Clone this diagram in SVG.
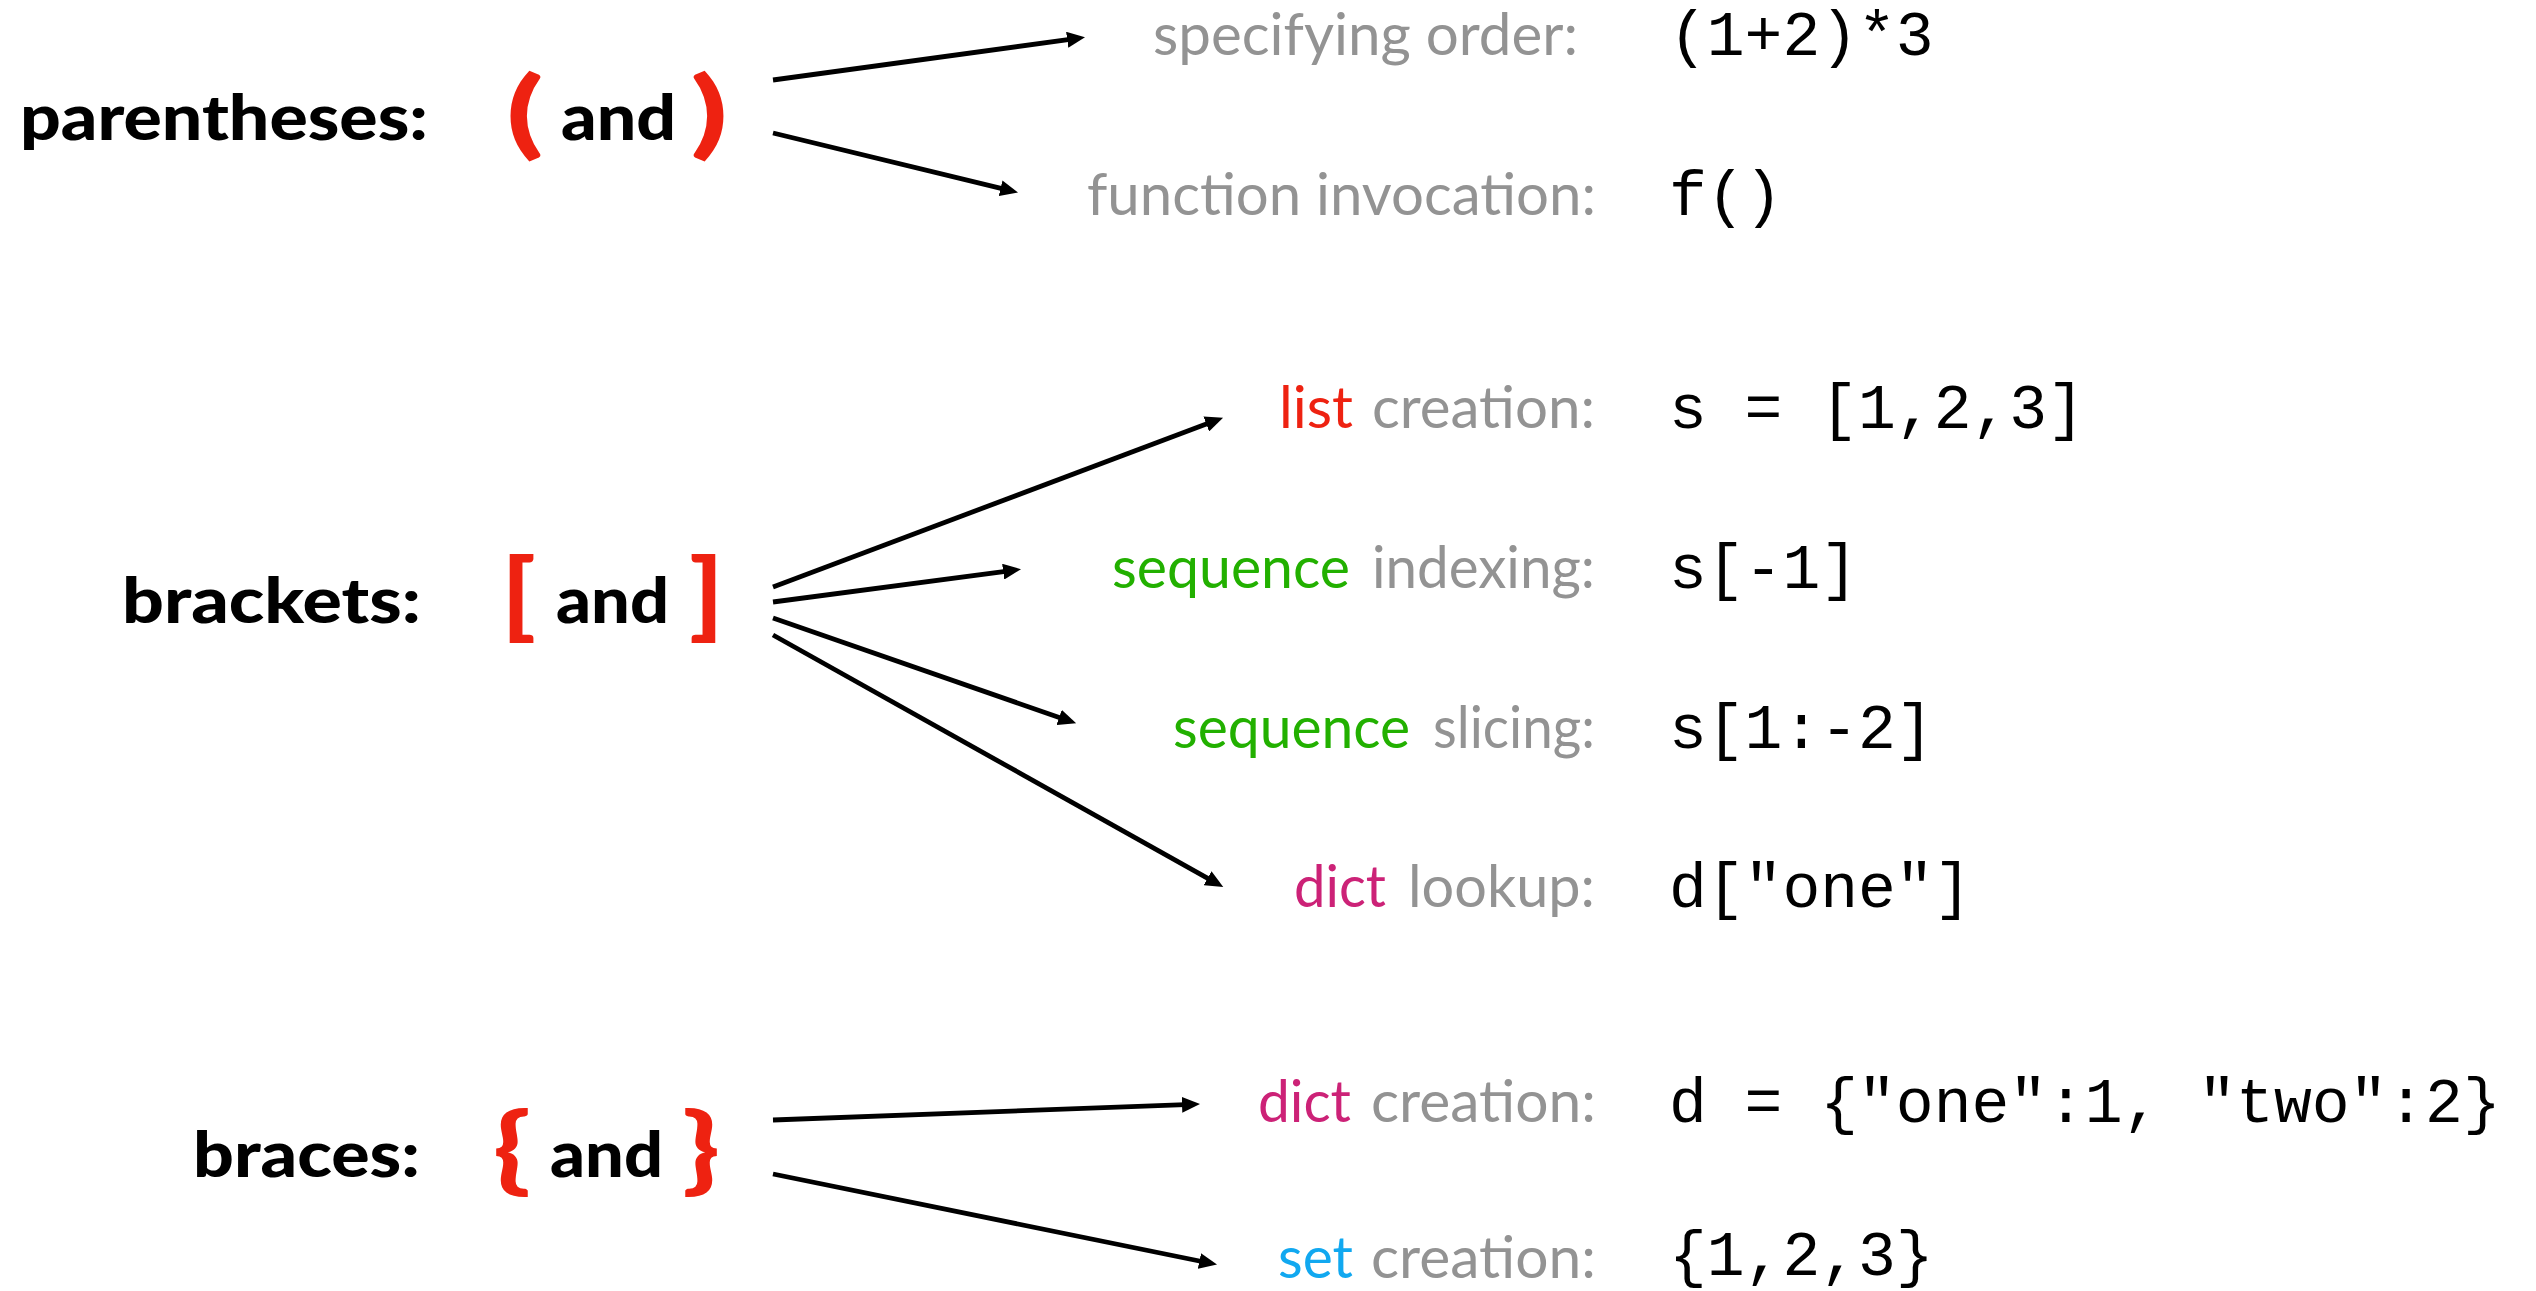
<svg xmlns="http://www.w3.org/2000/svg" width="2536" height="1291" viewBox="0 0 2536 1291">
<defs>
<style>
.bold{font-family:Lato,"Open Sans","DejaVu Sans",sans-serif;font-weight:900;font-size:62px;fill:#000}
.br{font-family:Lato,"Open Sans","DejaVu Sans",sans-serif;font-weight:900;font-size:96px;fill:#ee2211}
.lab{font-family:Lato,"Open Sans","DejaVu Sans",sans-serif;font-size:58px;fill:#939393}
.red{fill:#ee2211}
.green{fill:#22b000}
.mag{fill:#cc2277}
.blue{fill:#11a8f0}
.code{font-family:"Liberation Mono","DejaVu Sans Mono",monospace;font-size:63px;fill:#000}
.arr{stroke:#000;stroke-width:4.8;fill:none;marker-end:url(#ah)}
</style>
<marker id="ah" markerUnits="userSpaceOnUse" markerWidth="18" markerHeight="16" viewBox="0 0 18 16" refX="10" refY="8" orient="auto">
<path d="M0,0 L18,8 L0,16 Z" fill="#000"/>
</marker>
</defs>
<rect width="2536" height="1291" fill="#fff"/>

<g id="parentheses">
<text class="bold" x="20" y="140" textLength="408" lengthAdjust="spacingAndGlyphs">parentheses:</text>
<text class="br" x="506" y="146" textLength="38" lengthAdjust="spacingAndGlyphs">(</text>
<text class="bold" x="561" y="140" textLength="115" lengthAdjust="spacingAndGlyphs">and</text>
<text class="br" x="690" y="146" textLength="38" lengthAdjust="spacingAndGlyphs">)</text>
</g>
<g id="brackets">
<text class="bold" x="122" y="623" textLength="299" lengthAdjust="spacingAndGlyphs">brackets:</text>
<text class="br" x="501" y="628" textLength="35" lengthAdjust="spacingAndGlyphs">[</text>
<text class="bold" x="556" y="623" textLength="113" lengthAdjust="spacingAndGlyphs">and</text>
<text class="br" x="689" y="628" textLength="35" lengthAdjust="spacingAndGlyphs">]</text>
</g>
<g id="braces">
<text class="bold" x="193" y="1177" textLength="227" lengthAdjust="spacingAndGlyphs">braces:</text>
<text class="br" x="493" y="1182" textLength="38" lengthAdjust="spacingAndGlyphs">{</text>
<text class="bold" x="550" y="1177" textLength="113" lengthAdjust="spacingAndGlyphs">and</text>
<text class="br" x="682" y="1182" textLength="38" lengthAdjust="spacingAndGlyphs">}</text>
</g>

<g id="specifying-order">
<text class="lab" x="1153" y="55" textLength="425" lengthAdjust="spacingAndGlyphs">specifying order:</text>
<text class="code" x="1669" y="55">(1+2)*3</text>
</g>
<g id="function-invocation">
<text class="lab" x="1087" y="215" textLength="509" lengthAdjust="spacingAndGlyphs">function invocation:</text>
<text class="code" x="1669" y="215">f()</text>
</g>
<g id="list-creation">
<text class="lab red" x="1279" y="428" textLength="74" lengthAdjust="spacingAndGlyphs">list</text>
<text class="lab" x="1372" y="428" textLength="223" lengthAdjust="spacingAndGlyphs">creation:</text>
<text class="code" x="1669" y="428">s = [1,2,3]</text>
</g>
<g id="sequence-indexing">
<text class="lab green" x="1112" y="588" textLength="238" lengthAdjust="spacingAndGlyphs">sequence</text>
<text class="lab" x="1372" y="588" textLength="223" lengthAdjust="spacingAndGlyphs">indexing:</text>
<text class="code" x="1669" y="588">s[-1]</text>
</g>
<g id="sequence-slicing">
<text class="lab green" x="1173" y="748" textLength="237" lengthAdjust="spacingAndGlyphs">sequence</text>
<text class="lab" x="1433" y="748" textLength="162" lengthAdjust="spacingAndGlyphs">slicing:</text>
<text class="code" x="1669" y="748">s[1:-2]</text>
</g>
<g id="dict-lookup">
<text class="lab mag" x="1294" y="907" textLength="92" lengthAdjust="spacingAndGlyphs">dict</text>
<text class="lab" x="1408" y="907" textLength="187" lengthAdjust="spacingAndGlyphs">lookup:</text>
<text class="code" x="1669" y="907">d["one"]</text>
</g>
<g id="dict-creation">
<text class="lab mag" x="1258" y="1122" textLength="93" lengthAdjust="spacingAndGlyphs">dict</text>
<text class="lab" x="1371" y="1122" textLength="225" lengthAdjust="spacingAndGlyphs">creation:</text>
<text class="code" x="1669" y="1122">d = {"one":1, "two":2}</text>
</g>
<g id="set-creation">
<text class="lab blue" x="1278" y="1278" textLength="75" lengthAdjust="spacingAndGlyphs">set</text>
<text class="lab" x="1371" y="1278" textLength="225" lengthAdjust="spacingAndGlyphs">creation:</text>
<text class="code" x="1669" y="1275">{1,2,3}</text>
</g>

<g id="connectors">
<line class="arr" x1="773" y1="80" x2="1077.1" y2="38.4"/>
<line class="arr" x1="773" y1="133" x2="1010.3" y2="190.6"/>
<line class="arr" x1="773" y1="587" x2="1215.6" y2="420.5"/>
<line class="arr" x1="773" y1="602" x2="1013.1" y2="570.3"/>
<line class="arr" x1="773" y1="618" x2="1068.6" y2="720.7"/>
<line class="arr" x1="773" y1="635" x2="1216.3" y2="883.1"/>
<line class="arr" x1="773" y1="1120" x2="1192.0" y2="1104.4"/>
<line class="arr" x1="773" y1="1174" x2="1209.2" y2="1263.0"/>
</g>
</svg>
